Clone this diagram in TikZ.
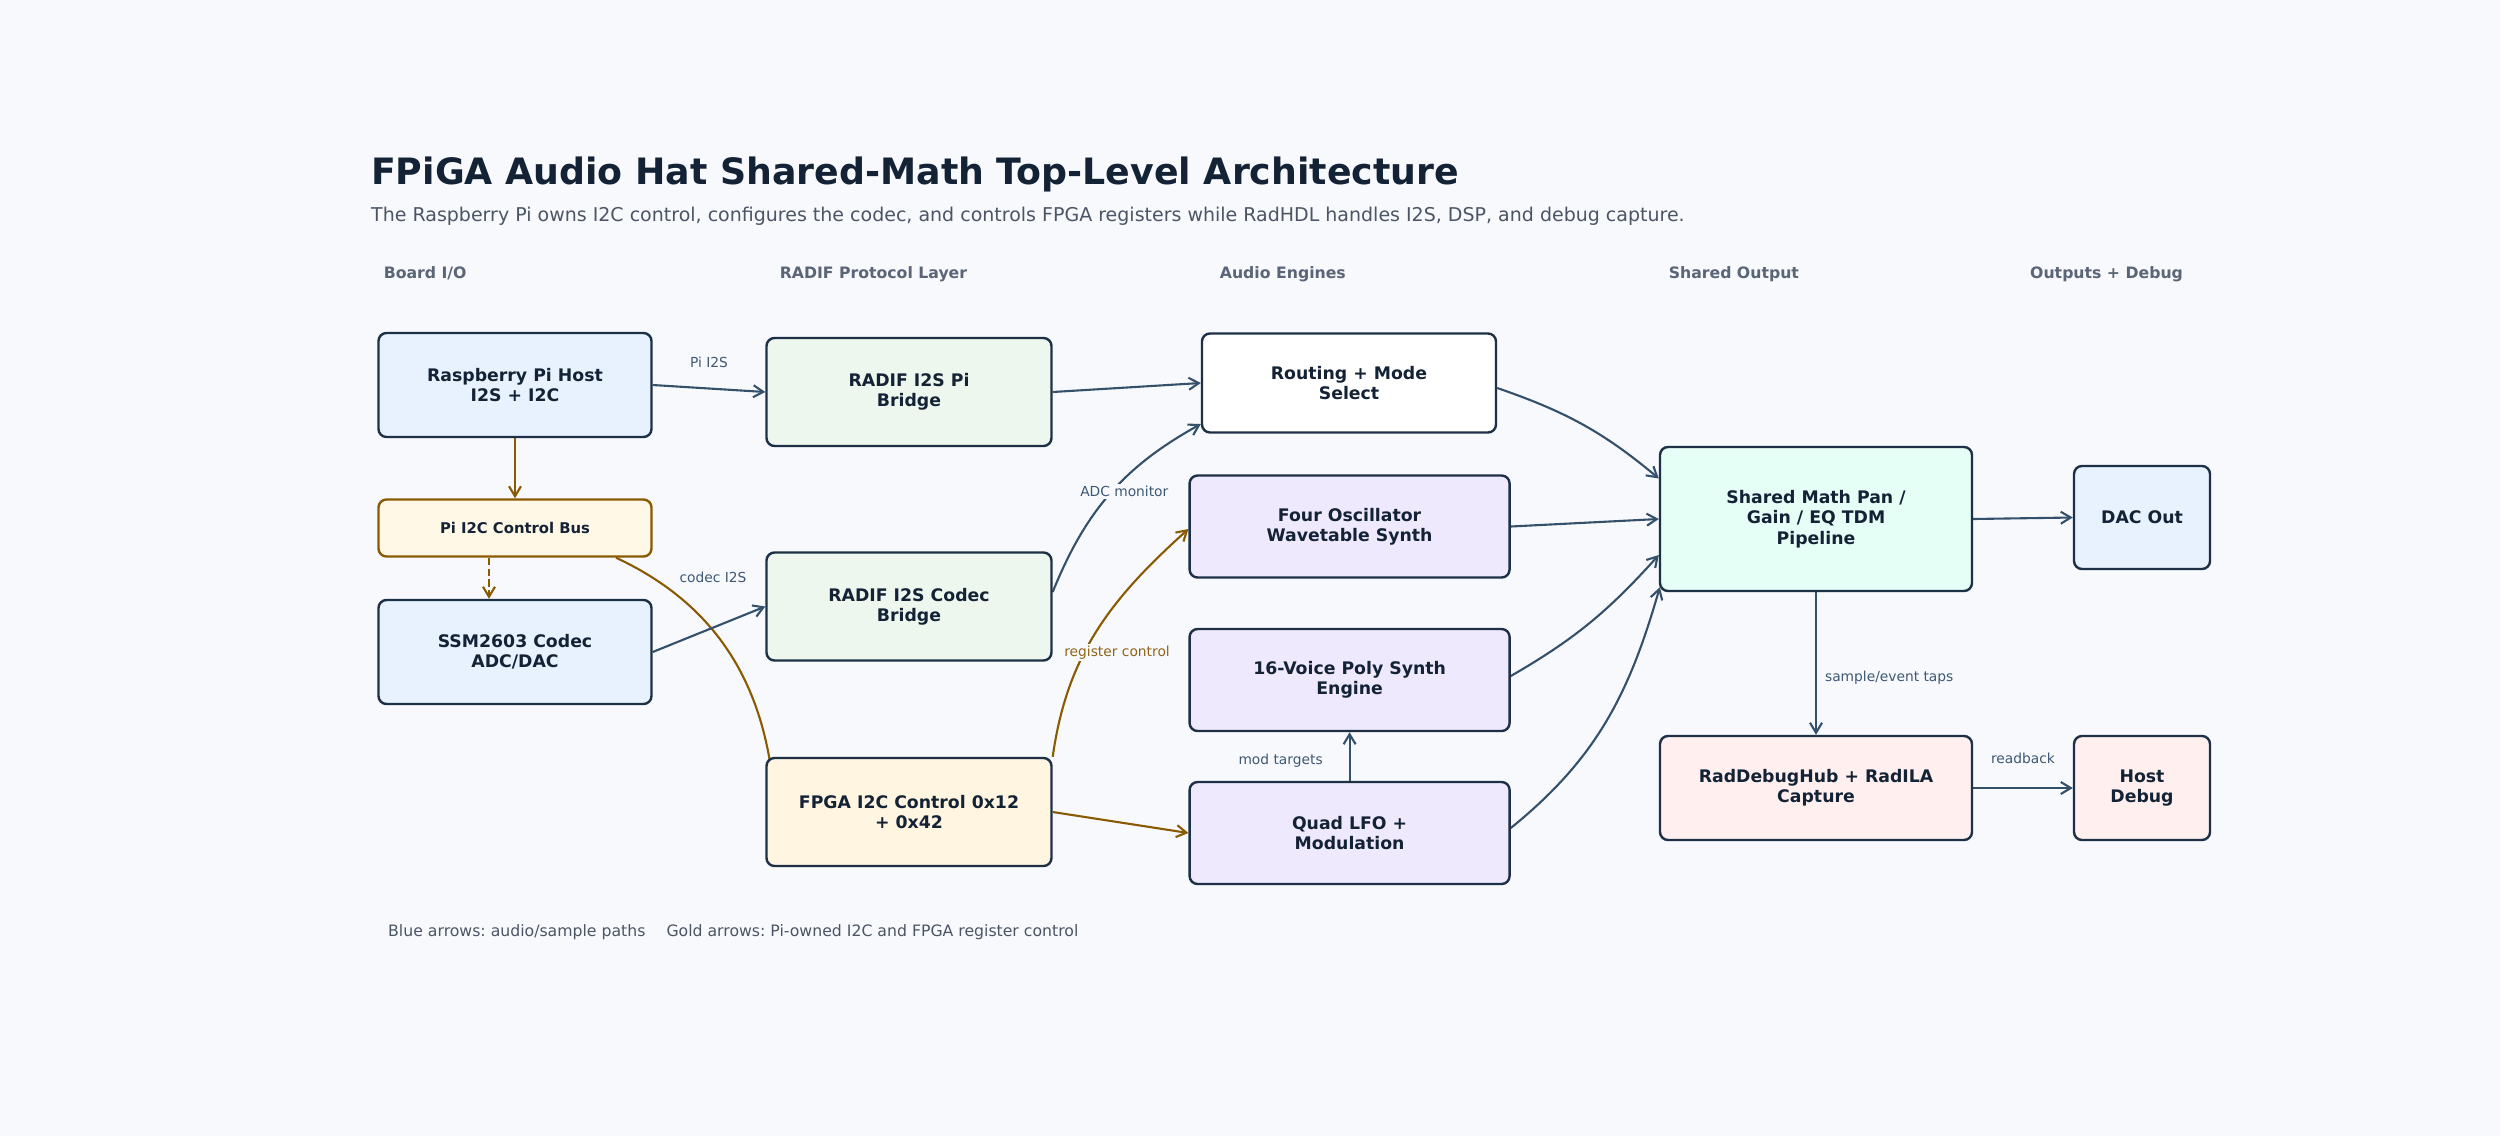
\documentclass[tikz,border=0pt]{standalone}
\usepackage{fontspec}
\setmainfont{DejaVu Sans}
\usetikzlibrary{arrows.meta}
\frenchspacing

\definecolor{canvas}{HTML}{F7F9FC}
\definecolor{ink}{HTML}{132235}
\definecolor{edgeink}{HTML}{1E3046}
\definecolor{fillio}{HTML}{E8F2FF}
\definecolor{fillbridge}{HTML}{EEF7EE}
\definecolor{fillctl}{HTML}{FFF5E1}
\definecolor{fillbus}{HTML}{FFF8E6}
\definecolor{fillengine}{HTML}{EFE9FE}
\definecolor{fillmath}{HTML}{E6FFF6}
\definecolor{filldbg}{HTML}{FFF0EF}
\definecolor{wireblue}{HTML}{34506B}
\definecolor{wiregold}{HTML}{8A5A00}
\definecolor{labelblue}{HTML}{3E5873}
\definecolor{labelgold}{HTML}{8F6419}
\definecolor{headgray}{HTML}{5A6577}
\definecolor{subgray}{HTML}{4B5565}

\pgfdeclarelayer{back}
\pgfsetlayers{back,main}

\tikzset{
  box/.style={draw=edgeink, line width=2.4pt, rounded corners=8pt, align=center,
    text=ink, inner sep=0pt, font=\fontsize{17.3}{20.3}\selectfont\bfseries},
  iobox/.style={box, fill=fillio},
  bridgebox/.style={box, fill=fillbridge},
  ctlbox/.style={box, fill=fillctl},
  enginebox/.style={box, fill=fillengine},
  mathbox/.style={box, fill=fillmath},
  dbgbox/.style={box, fill=filldbg},
  audio/.style={draw=wireblue, line width=2.1pt, -{Straight Barb[length=10pt,width=12pt]}},
  ctl/.style={draw=wiregold, line width=2.1pt, -{Straight Barb[length=10pt,width=12pt]}},
  wirelabel/.style={fill=canvas, inner sep=2pt, text=labelblue,
    font=\fontsize{13.8}{16}\selectfont},
  colhead/.style={anchor=base west, inner sep=0pt, text=headgray,
    font=\fontsize{15.7}{18}\selectfont\bfseries},
}

\begin{document}
\begin{tikzpicture}[x=1pt, y=1pt]
  \useasboundingbox (0,0) rectangle (2500,-1136);

  \node[anchor=base west, inner sep=0pt, text=ink, font=\fontsize{36.3}{42}\selectfont\bfseries]
    (title) at (371,-184) {FPiGA Audio Hat Shared-Math Top-Level Architecture};
  \node[anchor=base west, inner sep=0pt, text=subgray, font=\fontsize{19}{23}\selectfont]
    (subtitle) at (371,-221.7) {The Raspberry Pi owns I2C control, configures the codec, and controls FPGA registers while RadHDL handles I2S, DSP, and debug capture.};

  \node[colhead] (hdio) at (383.6,-278.3) {Board I/O};
  \node[colhead] (hdradif) at (779.6,-278.3) {RADIF Protocol Layer};
  \node[colhead] (hdengine) at (1219.7,-278.3) {Audio Engines};
  \node[colhead] (hdshared) at (1668.6,-278.3) {Shared Output};
  \node[colhead] (hdout) at (2030,-278.3) {Outputs + Debug};

  \node[iobox, minimum width=273pt, minimum height=104pt] (pihost) at (515,-385) {Raspberry Pi Host\\I2S + I2C};
  \node[box, draw=wiregold, fill=fillbus, minimum width=273pt, minimum height=57pt,
    font=\fontsize{14.8}{17}\selectfont\bfseries] (bus) at (515,-528) {Pi I2C Control Bus};
  \node[iobox, minimum width=273pt, minimum height=104pt] (codec) at (515,-652) {SSM2603 Codec\\ADC/DAC};

  \node[bridgebox, minimum width=285pt, minimum height=108pt] (pibridge) at (909,-392) {RADIF I2S Pi\\Bridge};
  \node[bridgebox, minimum width=285pt, minimum height=108pt] (codecbridge) at (909,-606.5) {RADIF I2S Codec\\Bridge};
  \node[ctlbox, minimum width=285pt, minimum height=108pt] (fpgactl) at (909,-812) {FPGA I2C Control 0x12\\+ 0x42};

  \node[box, fill=white, minimum width=294pt, minimum height=99pt] (routing) at (1349,-383) {Routing + Mode\\Select};
  \node[enginebox, minimum width=320pt, minimum height=102pt] (fourosc) at (1349.6,-526.5) {Four Oscillator\\Wavetable Synth};
  \node[enginebox, minimum width=320pt, minimum height=102pt] (poly) at (1349.6,-680) {16-Voice Poly Synth\\Engine};
  \node[enginebox, minimum width=320pt, minimum height=102pt] (lfo) at (1349.6,-833) {Quad LFO +\\Modulation};

  \node[mathbox, minimum width=312pt, minimum height=144pt] (shared) at (1816,-519) {Shared Math Pan /\\Gain / EQ TDM\\Pipeline};
  \node[dbgbox, minimum width=312pt, minimum height=104pt] (raddebug) at (1816,-788) {RadDebugHub + RadILA\\Capture};
  \node[iobox, minimum width=136pt, minimum height=103pt] (dac) at (2142,-517.5) {DAC Out};
  \node[dbgbox, minimum width=136pt, minimum height=104pt] (hostdbg) at (2142,-788) {Host\\Debug};

  \node[anchor=base west, inner sep=0pt, text=subgray, font=\fontsize{15.7}{19}\selectfont]
    (legend) at (388,-936) {Blue arrows: audio/sample paths\hspace{21pt}Gold arrows: Pi-owned I2C and FPGA register control};

  \begin{pgfonlayer}{back}
    \fill[canvas] (0,0) rectangle (2500,-1136);

    \draw[audio] (pihost.east) -- (pibridge.west)
      node[wirelabel, midway, yshift=26pt] (lblpii2s) {Pi I2S};
    \draw[ctl] (pihost.south) -- (bus.north);
    \draw[ctl, dash pattern=on 7.4pt off 3.4pt] ([xshift=-26pt]bus.south) -- ([xshift=-26pt]codec.north);
    \draw[ctl] ([xshift=101pt]bus.south) to[out=-25, in=95] ([xshift=9pt,yshift=15pt]fpgactl.west);
    \draw[audio] (codec.east) -- (codecbridge.west)
      node[wirelabel, midway, xshift=4pt, yshift=52pt] (lblcodec) {codec I2S};

    \draw[audio] (pibridge.east) -- (routing.west);
    \draw[audio] ([yshift=14.5pt]codecbridge.east) to[out=68, in=-151]
      node[wirelabel, xshift=14pt, yshift=2pt] (lbladc) {ADC monitor} ([yshift=-41pt]routing.west);
    \draw[ctl] (fpgactl.north east) to[out=82, in=-138]
      node[wirelabel, text=labelgold, xshift=20pt, yshift=-22pt] (lblreg) {register control} ([yshift=-2.5pt]fourosc.west);
    \draw[ctl] (fpgactl.east) -- (lfo.west);
    \draw[audio] (lfo.north) -- (poly.south)
      node[wirelabel, midway, xshift=-69pt, yshift=-4pt] (lblmod) {mod targets};

    \draw[audio] ([yshift=-5pt]routing.east) to[out=-19, in=140] ([yshift=40.5pt]shared.west);
    \draw[audio] (fourosc.east) -- (shared.west);
    \draw[audio] ([yshift=4pt]poly.east) to[out=30, in=-132] ([yshift=-36pt]shared.west);
    \draw[audio] ([yshift=5pt]lfo.east) to[out=39, in=-106] ([xshift=1pt,yshift=5pt]shared.south west);

    \draw[audio] (shared.east) -- (dac.west);
    \draw[audio] (shared.south) -- (raddebug.north)
      node[wirelabel, pos=0.6, anchor=west, xshift=6pt] (lbltaps) {sample/event taps};
    \draw[audio] (raddebug.east) -- (hostdbg.west)
      node[wirelabel, midway, yshift=30pt] (lblreadback) {readback};
  \end{pgfonlayer}
\end{tikzpicture}
\end{document}
